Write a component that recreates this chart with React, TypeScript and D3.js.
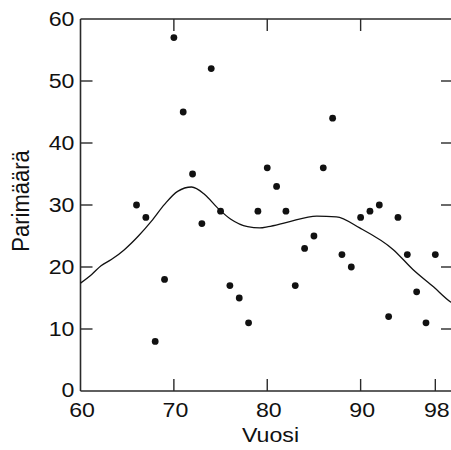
import React from "react";
import * as d3 from "d3";

const years = [66, 67, 68, 69, 70, 71, 72, 73, 74, 75, 76, 77, 78, 79, 80, 81, 82, 83, 84, 85, 86, 87, 88, 89, 90, 91, 92, 93, 94, 95, 96, 97, 98];
const pairs = [30, 28, 8, 18, 57, 45, 35, 27, 52, 29, 17, 15, 11, 29, 36, 33, 29, 17, 23, 25, 36, 44, 22, 20, 28, 29, 30, 12, 28, 22, 16, 11, 22];

const curveYears = [60, 61.2, 62.2, 63.3, 64.7, 66.2, 67.6, 69.0, 70.4, 71.9, 73.3, 74.7, 76.1, 77.9, 79.2, 80.1, 82.1, 85.3, 87.4, 89.9, 93.5, 95.6, 97.8, 99.6, 100];
const curveValues = [17.4, 18.8, 20.2, 21.2, 22.8, 25.0, 27.4, 30.1, 32.2, 32.9, 31.7, 29.5, 27.7, 26.5, 26.3, 26.5, 27.2, 28.2, 28.1, 26.3, 22.8, 19.6, 16.8, 14.4, 14.0];

const xTicksBottom = [60, 70, 80, 90, 98];
const xTicksTop = [70, 80, 90];
const yTicks = [0, 10, 20, 30, 40, 50, 60];
const yInnerTicks = [10, 20, 30, 40, 50];

export default function App() {
  const x = d3.scaleLinear().domain([60, 100]).range([80.5, 454]);
  const y = d3.scaleLinear().domain([0, 60]).range([391, 19]);
  const line = d3
    .line<number>()
    .x((_, i) => x(curveYears[i]))
    .y((d) => y(d))
    .curve(d3.curveMonotoneX);
  const font = "'Liberation Sans', Arial, sans-serif";
  const axisColor = "#2a2a2a";
  const tickLen = 12;
  const fs = 20.5;
  const sx = 1.13;

  return (
    <svg
      width={451}
      height={450}
      style={{ position: "absolute", left: 0, top: 0, background: "#fff" }}
      fontFamily={font}
    >
      <rect x={0} y={0} width={451} height={450} fill="#fff" />
      {/* frame */}
      <line x1={x(60)} y1={y(0)} x2={x(60)} y2={y(60)} stroke={axisColor} strokeWidth={1.6} />
      <line x1={x(60)} y1={y(60)} x2={x(100)} y2={y(60)} stroke={axisColor} strokeWidth={1.6} />
      <line x1={x(60)} y1={y(0)} x2={x(100)} y2={y(0)} stroke={axisColor} strokeWidth={1.6} />
      <line x1={x(100)} y1={y(0)} x2={x(100)} y2={y(60)} stroke={axisColor} strokeWidth={1.6} />
      {/* ticks */}
      {yInnerTicks.map((t) => (
        <g key={"yt" + t}>
          <line x1={x(60)} x2={x(60) + tickLen} y1={y(t)} y2={y(t)} stroke={axisColor} strokeWidth={1.4} />
          <line x1={x(100)} x2={x(100) - tickLen - 1} y1={y(t)} y2={y(t)} stroke={axisColor} strokeWidth={1.4} />
        </g>
      ))}
      {xTicksBottom.filter((t) => t !== 60).map((t) => (
        <line key={"xb" + t} x1={x(t)} x2={x(t)} y1={y(0)} y2={y(0) - tickLen} stroke={axisColor} strokeWidth={1.4} />
      ))}
      {xTicksTop.map((t) => (
        <line key={"xt" + t} x1={x(t)} x2={x(t)} y1={y(60)} y2={y(60) + tickLen} stroke={axisColor} strokeWidth={1.4} />
      ))}
      {/* tick labels */}
      {yTicks.map((t) => (
        <text
          key={"yl" + t}
          transform={`translate(74.5,${t === 0 ? y(t) - 1.5 : y(t)}) scale(${sx},1)`}
          dy="0.36em"
          textAnchor="end"
          fontSize={fs}
          fill="#111"
        >
          {t}
        </text>
      ))}
      {xTicksBottom.map((t) => (
        <text
          key={"xl" + t}
          transform={`translate(${x(t) + 1.5},416.5) scale(${sx},1)`}
          textAnchor="middle"
          fontSize={fs}
          fill="#111"
        >
          {t}
        </text>
      ))}
      <text transform={`translate(270.5,442) scale(${sx},1)`} textAnchor="middle" fontSize={fs} fill="#111">
        Vuosi
      </text>
      <text
        transform={`translate(29,201) rotate(-90) scale(1,1.1)`}
        textAnchor="middle"
        fontSize={22}
        fill="#111"
      >
        Parimäärä
      </text>
      {/* smooth curve */}
      <path d={line(curveValues) || ""} fill="none" stroke="#111" strokeWidth={1.3} />
      {/* points */}
      {years.map((yr, i) => (
        <circle key={"p" + i} cx={x(yr)} cy={y(pairs[i])} r={3.4} fill="#111" />
      ))}
    </svg>
  );
}
